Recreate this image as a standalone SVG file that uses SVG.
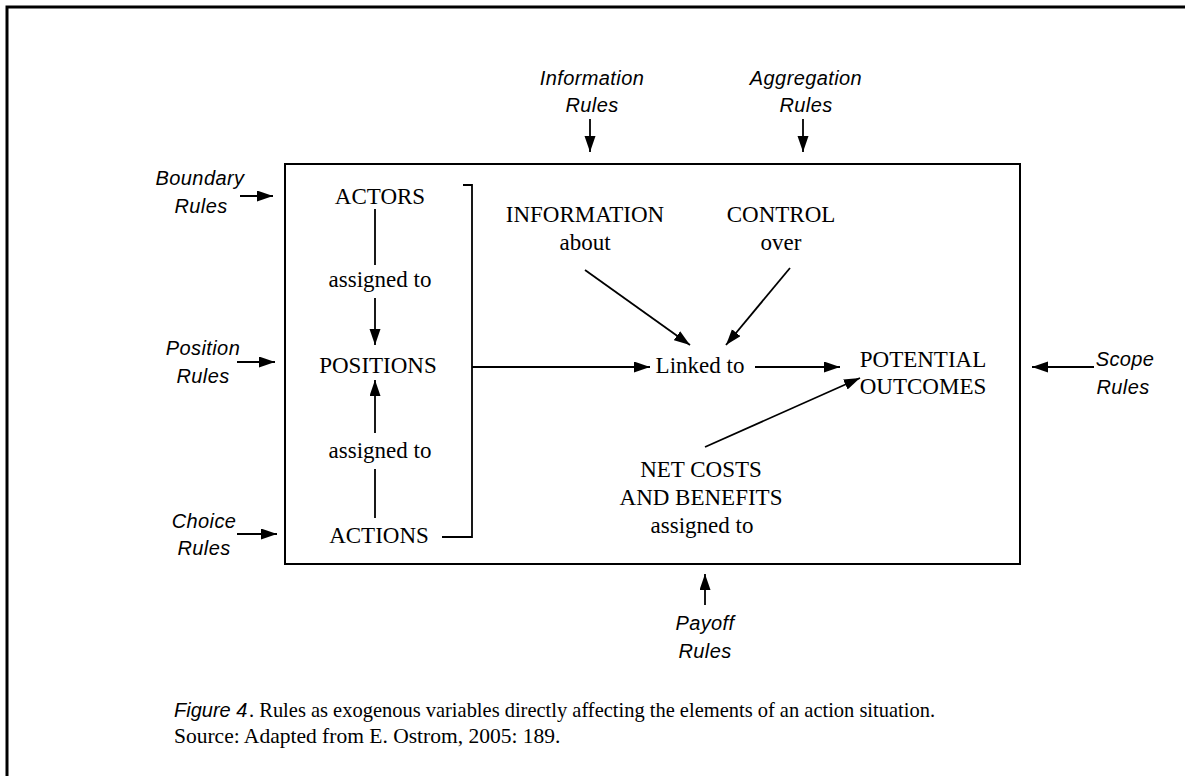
<svg xmlns="http://www.w3.org/2000/svg" width="1185" height="776" viewBox="0 0 1185 776">
<style>
.rule{font-family:"Liberation Sans",Arial,sans-serif;font-style:italic;font-size:20px;letter-spacing:0.4px;fill:#000;text-anchor:middle}
.lbl{font-family:"Liberation Serif","Times New Roman",serif;font-size:23px;fill:#000;text-anchor:middle}
.cap{font-family:"Liberation Serif","Times New Roman",serif;font-size:21.5px;fill:#000}
.capi{font-family:"Liberation Sans",Arial,sans-serif;font-style:italic;font-size:20px;fill:#000}
.ln{stroke:#000;stroke-width:1.8;fill:none}
.ar{stroke:#000;stroke-width:1.8;fill:none;marker-end:url(#ah)}
</style>
<defs>
<marker id="ah" markerUnits="userSpaceOnUse" markerWidth="17" markerHeight="12" refX="16" refY="5.5" orient="auto">
<path d="M0,0 L16,5.5 L0,11 z" fill="#000"/>
</marker>
</defs>
<rect width="1185" height="776" fill="#fff"/>
<path d="M7,776 L7,7 L1185,7" fill="none" stroke="#000" stroke-width="3"/>
<rect id="situation" x="285" y="164" width="735" height="400" fill="none" stroke="#000" stroke-width="2"/>

<g id="connectors">
<path class="ar" d="M240,196 L273,196"/>
<path class="ar" d="M237,362 L275,362"/>
<path class="ar" d="M237,534 L277,534"/>
<path class="ar" d="M590,119 L590,152"/>
<path class="ar" d="M803,119 L803,152"/>
<path class="ar" d="M1094,367 L1032,367"/>
<path class="ar" d="M705,605 L705,574"/>
<path class="ln" d="M375,209 L375,265"/>
<path class="ar" d="M375,298 L375,345"/>
<path class="ln" d="M375,518 L375,469"/>
<path class="ar" d="M375,433 L375,380"/>
<path class="ln" d="M463,185 L472,185 L472,537 L442,537"/>
<path class="ar" d="M472,367 L650,367"/>
<path class="ar" d="M755,367 L840,367"/>
<path class="ar" d="M585,270 L690,345"/>
<path class="ar" d="M790,268 L726,345"/>
<path class="ar" d="M705,447 L860,378"/>
</g>

<g id="boundary-rules"><text class="rule" x="200" y="185">Boundary</text><text class="rule" x="201" y="213">Rules</text></g>
<g id="position-rules"><text class="rule" x="203" y="355">Position</text><text class="rule" x="203" y="383">Rules</text></g>
<g id="choice-rules"><text class="rule" x="204" y="528">Choice</text><text class="rule" x="204" y="555">Rules</text></g>
<g id="information-rules"><text class="rule" x="592" y="85">Information</text><text class="rule" x="592" y="112">Rules</text></g>
<g id="aggregation-rules"><text class="rule" x="806" y="85">Aggregation</text><text class="rule" x="806" y="112">Rules</text></g>
<g id="scope-rules"><text class="rule" x="1125" y="366">Scope</text><text class="rule" x="1123" y="394">Rules</text></g>
<g id="payoff-rules"><text class="rule" x="705" y="630">Payoff</text><text class="rule" x="705" y="658">Rules</text></g>

<g id="actors"><text class="lbl" x="380" y="204">ACTORS</text></g>
<g id="assigned1"><text class="lbl" x="380" y="287">assigned to</text></g>
<g id="positions"><text class="lbl" x="378" y="373">POSITIONS</text></g>
<g id="assigned2"><text class="lbl" x="380" y="458">assigned to</text></g>
<g id="actions"><text class="lbl" x="379" y="543">ACTIONS</text></g>
<g id="information"><text class="lbl" x="585" y="222">INFORMATION</text><text class="lbl" x="585" y="250">about</text></g>
<g id="control"><text class="lbl" x="781" y="222">CONTROL</text><text class="lbl" x="781" y="250">over</text></g>
<g id="linked"><text class="lbl" x="700" y="373">Linked to</text></g>
<g id="outcomes"><text class="lbl" x="923" y="367">POTENTIAL</text><text class="lbl" x="923" y="394">OUTCOMES</text></g>
<g id="netcosts"><text class="lbl" x="701" y="477">NET COSTS</text><text class="lbl" x="701" y="505">AND BENEFITS</text><text class="lbl" x="702" y="533">assigned to</text></g>

<g id="caption">
<text class="capi" x="174" y="717">Figure 4</text>
<text class="cap" x="249" y="717" textLength="686" lengthAdjust="spacingAndGlyphs">. Rules as exogenous variables directly affecting the elements of an action situation.</text>
<text class="cap" x="174" y="743">Source: Adapted from E. Ostrom, 2005: 189.</text>
</g>
</svg>
